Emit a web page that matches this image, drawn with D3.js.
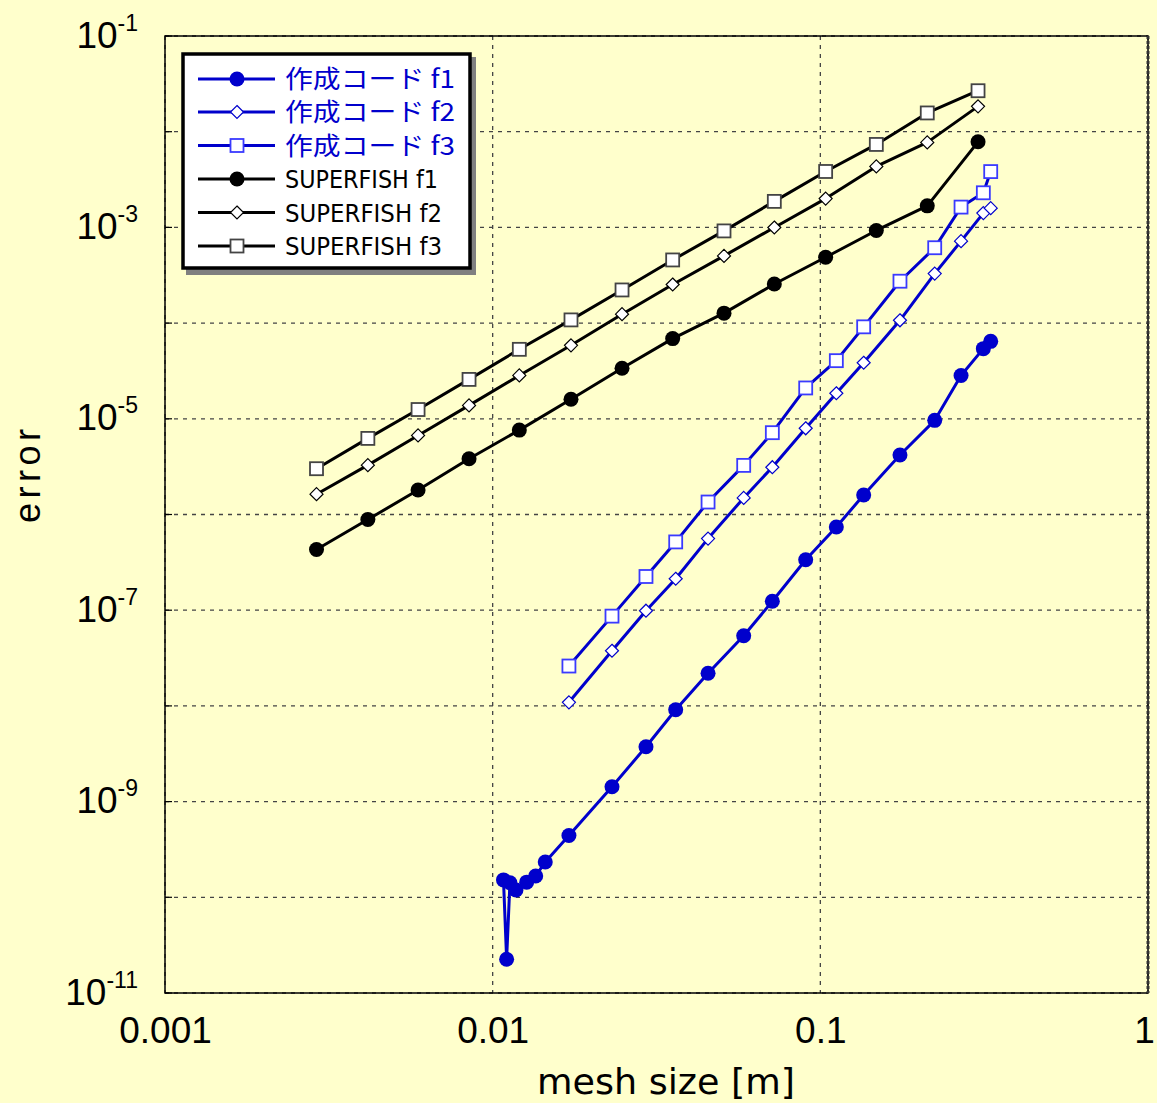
<!DOCTYPE html>
<html><head><meta charset="utf-8">
<script src="https://cdn.jsdelivr.net/npm/d3@7"></script>
<style>
html,body{margin:0;padding:0;background:#FFFFCC;}
svg{display:block;}
</style></head>
<body>
<svg id="chart" width="1157" height="1103"></svg>
<script>
// ---- data ----
const sfX  = [0.00290, 0.00416, 0.00592, 0.00847, 0.01206, 0.01734, 0.02482, 0.03543, 0.05082, 0.07237, 0.1038, 0.1482, 0.2120, 0.3029];
const sfF1 = [4.31e-7, 8.87e-7, 1.80e-6, 3.83e-6, 7.62e-6, 1.60e-5, 3.37e-5, 6.89e-5, 1.27e-4, 2.56e-4, 4.88e-4, 9.29e-4, 1.68e-3, 7.84e-3];
const sfF2 = [1.63e-6, 3.28e-6, 6.70e-6, 1.38e-5, 2.84e-5, 5.86e-5, 1.24e-4, 2.53e-4, 5.04e-4, 9.98e-4, 2.00e-3, 4.34e-3, 7.73e-3, 1.84e-2];
const sfF3 = [3.01e-6, 6.24e-6, 1.25e-5, 2.58e-5, 5.32e-5, 1.08e-4, 2.22e-4, 4.57e-4, 9.19e-4, 1.87e-3, 3.84e-3, 7.36e-3, 1.57e-2, 2.68e-2];

const codeF1X = [0.01079, 0.01103, 0.01129, 0.01178, 0.01270, 0.01353, 0.01447, 0.01709, 0.02313, 0.02937, 0.03619, 0.04543, 0.05836, 0.07137, 0.09023, 0.1119, 0.1356, 0.1750, 0.2234, 0.2688, 0.3144, 0.3311];
const codeF1  = [1.52e-10, 2.25e-11, 1.42e-10, 1.19e-10, 1.44e-10, 1.67e-10, 2.34e-10, 4.42e-10, 1.43e-9, 3.74e-9, 9.12e-9, 2.19e-8, 5.40e-8, 1.24e-7, 3.37e-7, 7.40e-7, 1.60e-6, 4.19e-6, 9.64e-6, 2.83e-5, 5.41e-5, 6.45e-5];
const codeX   = [0.01709, 0.02313, 0.02937, 0.03619, 0.04543, 0.05836, 0.07137, 0.09023, 0.1119, 0.1356, 0.1750, 0.2234, 0.2688, 0.3144, 0.3311];
const codeF2  = [1.09e-8, 3.77e-8, 9.88e-8, 2.13e-7, 5.60e-7, 1.49e-6, 3.12e-6, 7.96e-6, 1.85e-5, 3.85e-5, 1.07e-4, 3.29e-4, 7.18e-4, 1.41e-3, 1.59e-3];
const codeF3  = [2.61e-8, 8.67e-8, 2.25e-7, 5.17e-7, 1.35e-6, 3.26e-6, 7.16e-6, 2.10e-5, 4.05e-5, 9.14e-5, 2.74e-4, 6.13e-4, 1.63e-3, 2.30e-3, 3.83e-3];

const xTickValues = [0.001, 0.01, 0.1, 1];
const xTickLabels = ["0.001", "0.01", "0.1", "1"];
const yGridExps   = [-1, -2, -3, -4, -5, -6, -7, -8, -9, -10, -11];
const yLabelExps  = [-1, -3, -5, -7, -9, -11];
const seriesNames = ["作成コード f1", "作成コード f2", "作成コード f3", "SUPERFISH f1", "SUPERFISH f2", "SUPERFISH f3"];
const xTitle = "mesh size [m]";
const yTitle = "error";

// ---- layout ----
const BLUE = "#0000CC";
const L = 165, R = 1148, T = 36, B = 993;
const svg = d3.select("#chart");
svg.append("rect").attr("width",1157).attr("height",1103).attr("fill","#FFFFCC");

const x = d3.scaleLog().domain([0.001, 1]).range([L, R]);
const y = d3.scaleLog().domain([1e-11, 1e-1]).range([B, T]);

// grid
const grid = svg.append("g");
grid.selectAll("line.gy").data(yGridExps).join("line")
  .attr("x1", L).attr("x2", R)
  .attr("y1", d => y(Math.pow(10, d))).attr("y2", d => y(Math.pow(10, d)))
  .attr("stroke", "#444").attr("stroke-width", 1.3).attr("stroke-dasharray", "4,5");
grid.selectAll("line.gx").data(xTickValues).join("line")
  .attr("y1", T).attr("y2", B)
  .attr("x1", d => x(d)).attr("x2", d => x(d))
  .attr("stroke", "#444").attr("stroke-width", 1.3).attr("stroke-dasharray", "4,5");

// inward ticks on left axis
svg.append("g").selectAll("line").data(yGridExps).join("line")
  .attr("x1", L).attr("x2", L + 7)
  .attr("y1", d => y(Math.pow(10, d))).attr("y2", d => y(Math.pow(10, d)))
  .attr("stroke", "#000").attr("stroke-width", 1.2);

// frame
svg.append("rect").attr("x", L).attr("y", T).attr("width", R - L).attr("height", B - T)
  .attr("fill", "none").attr("stroke", "#000").attr("stroke-width", 1.5);
svg.append("line").attr("x1", R).attr("x2", R).attr("y1", T).attr("y2", B)
  .attr("stroke", "#333").attr("stroke-width", 3).attr("stroke-dasharray", "3,2");

// x axis labels
const xAxis = d3.axisBottom(x).tickValues(xTickValues).tickSize(0)
  .tickFormat((d, i) => xTickLabels[i]);
const gx = svg.append("g").attr("transform", `translate(0,${B})`).call(xAxis);
gx.select(".domain").remove();
gx.selectAll("text").attr("font-family", "Liberation Sans, Arial, sans-serif")
  .attr("font-size", 37).attr("fill", "#000").attr("dy", null).attr("y", 50)
  .attr("dx", (d, i) => i === xTickValues.length - 1 ? -4 : 0);

// y axis labels with superscripts
const yAxis = d3.axisLeft(y).tickValues(yLabelExps.map(e => Math.pow(10, e))).tickSize(0).tickFormat("");
const gy = svg.append("g").attr("transform", `translate(${L},0)`).call(yAxis);
gy.select(".domain").remove();
gy.selectAll(".tick").each(function(d) {
  const e = Math.round(Math.log10(d));
  const t = d3.select(this).select("text")
    .attr("x", -27).attr("dy", null).attr("y", 11)
    .attr("text-anchor", "end")
    .attr("font-family", "Liberation Sans, Arial, sans-serif").attr("fill", "#000");
  t.text(null);
  t.append("tspan").attr("font-size", 37).text("10");
  t.append("tspan").attr("font-size", 23).attr("dy", -17).text(String(e));
});

// axis titles
svg.append("text").attr("x", (537 + 795) / 2).attr("y", 1094).attr("text-anchor", "middle")
  .attr("font-family", "Liberation Sans Narrow, DejaVu Sans Condensed, sans-serif")
  .attr("font-size", 36).attr("textLength", 258).attr("lengthAdjust", "spacingAndGlyphs")
  .attr("fill", "#000").text(xTitle);
svg.append("text").attr("transform", "translate(40,476) rotate(-90)").attr("text-anchor", "middle")
  .attr("font-family", "Liberation Sans, Arial, sans-serif")
  .attr("font-size", 36).attr("textLength", 94).attr("lengthAdjust", "spacing")
  .attr("fill", "#000").text(yTitle);

// series
const series = [
  {xs: sfX, ys: sfF3, color: "#000", marker: "square", stroke: "#444"},
  {xs: sfX, ys: sfF2, color: "#000", marker: "diamond", stroke: "#000"},
  {xs: sfX, ys: sfF1, color: "#000", marker: "circle", stroke: "#000"},
  {xs: codeX, ys: codeF3, color: BLUE, marker: "square", stroke: "#3a3aff"},
  {xs: codeX, ys: codeF2, color: BLUE, marker: "diamond", stroke: BLUE},
  {xs: codeF1X, ys: codeF1, color: BLUE, marker: "circle", stroke: BLUE}
];
const line = d3.line().x(d => x(d[0])).y(d => y(d[1]));

function drawMarker(g, type, color, stroke, cx, cy, scale) {
  if (type === "circle") {
    g.append("circle").attr("cx", cx).attr("cy", cy).attr("r", 7.5 * scale).attr("fill", color);
  } else if (type === "square") {
    const s = 13 * scale;
    g.append("rect").attr("x", cx - s/2).attr("y", cy - s/2).attr("width", s).attr("height", s)
      .attr("fill", "#fff").attr("stroke", stroke).attr("stroke-width", 1.8);
  } else {
    const h = 6.5 * scale;
    g.append("path").attr("d", `M${cx},${cy-h}L${cx+h},${cy}L${cx},${cy+h}L${cx-h},${cy}Z`)
      .attr("fill", "#fff").attr("stroke", stroke).attr("stroke-width", 1.2);
  }
}

series.forEach(s => {
  const pts = s.xs.map((v, i) => [v, s.ys[i]]);
  const g = svg.append("g");
  g.append("path").datum(pts).attr("d", line).attr("fill", "none")
    .attr("stroke", s.color).attr("stroke-width", 3).attr("stroke-linejoin", "round");
  pts.forEach(p => drawMarker(g, s.marker, s.color, s.stroke, x(p[0]), y(p[1]), 1));
});

// legend
const lg = svg.append("g");
lg.append("rect").attr("x", 186).attr("y", 57).attr("width", 290).attr("height", 218).attr("fill", "#808080");
lg.append("rect").attr("x", 183).attr("y", 54).attr("width", 287).attr("height", 214)
  .attr("fill", "#fff").attr("stroke", "#000").attr("stroke-width", 3.5);
const legendRows = [
  {color: BLUE, marker: "circle", stroke: BLUE},
  {color: BLUE, marker: "diamond", stroke: BLUE},
  {color: BLUE, marker: "square", stroke: "#3a3aff"},
  {color: "#000", marker: "circle", stroke: "#000"},
  {color: "#000", marker: "diamond", stroke: "#000"},
  {color: "#000", marker: "square", stroke: "#444"}
];
const rowY = [79, 112, 145.5, 179, 212.5, 246];
legendRows.forEach((r, i) => {
  const cy = rowY[i];
  lg.append("line").attr("x1", 198).attr("x2", 275).attr("y1", cy).attr("y2", cy)
    .attr("stroke", r.color).attr("stroke-width", 3);
  drawMarker(lg, r.marker, r.color, r.stroke, 237, cy, 1);
  const jp = i < 3;
  lg.append("text").attr("x", 285).attr("y", cy + 9)
    .attr("font-family", jp ? "Noto Sans CJK JP, sans-serif" : "Liberation Sans Narrow, DejaVu Sans Condensed, sans-serif")
    .attr("font-size", 25)
    .attr("textLength", jp ? 170 : (i === 3 ? 153 : 157)).attr("lengthAdjust", "spacingAndGlyphs")
    .attr("fill", r.color).text(seriesNames[i]);
});
</script>
</body></html>
